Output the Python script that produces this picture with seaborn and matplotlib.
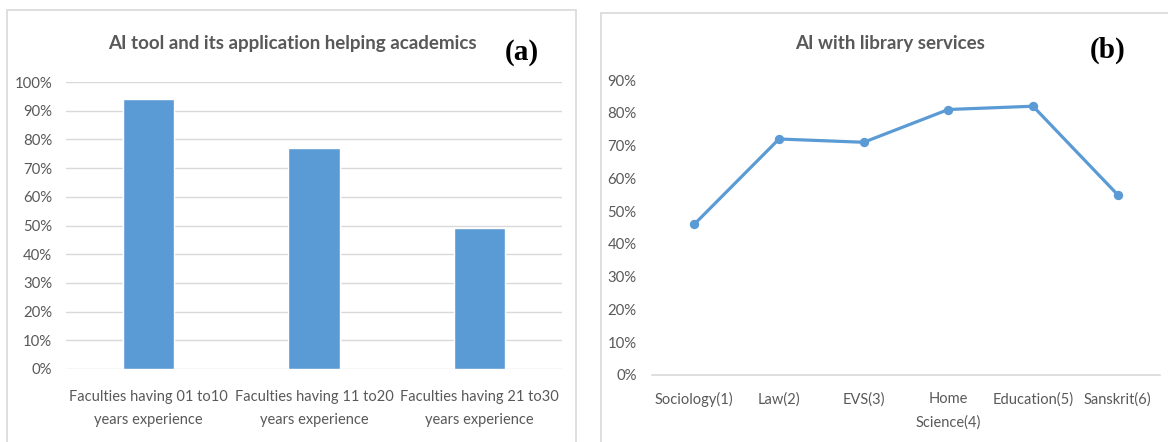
import matplotlib
matplotlib.use("Agg")
import matplotlib.pyplot as plt
import seaborn as sns
import numpy as np
import pandas as pd
from matplotlib.patches import Rectangle
from matplotlib.ticker import PercentFormatter

# ---- data ----
exp_groups = ["Faculties having 01 to10\nyears experience",
              "Faculties having 11 to20\nyears experience",
              "Faculties having 21 to30\nyears experience"]
exp_values = [0.94, 0.77, 0.49]

departments = ["Sociology(1)", "Law(2)", "EVS(3)", "Home\nScience(4)",
               "Education(5)", "Sanskrit(6)"]
dept_values = [0.46, 0.72, 0.71, 0.81, 0.82, 0.55]

title_a = "AI tool and its application helping academics"
title_b = "AI with library services"

sns.set_theme(style="white")
plt.rcParams['font.family'] = ['Lato', 'DejaVu Sans']

W, H = 1168, 442
fig = plt.figure(figsize=(W / 100, H / 100), dpi=100)
fig.patch.set_facecolor("white")

def fx(px):
    return px / W

def fy(py):
    return 1 - py / H

TXT = "#595959"
GRID = "#D9D9D9"
BLUE = "#5B9BD5"

# panel borders
fig.add_artist(Rectangle((fx(7), fy(450)), fx(576) - fx(7), fy(10) - fy(450),
                         transform=fig.transFigure, fill=False, edgecolor=GRID, lw=1.2))
fig.add_artist(Rectangle((fx(601), fy(450)), fx(1175) - fx(601), fy(13) - fy(450),
                         transform=fig.transFigure, fill=False, edgecolor=GRID, lw=1.2))

# ---- panel (a) ----
axa = fig.add_axes([fx(66), fy(369), fx(562) - fx(66), fy(82) - fy(369)])
dfa = pd.DataFrame({"group": exp_groups, "value": exp_values})
sns.barplot(data=dfa, x="group", y="value", ax=axa, color=BLUE, width=0.31,
            saturation=1)
axa.set_ylim(0, 1)
axa.set_xlim(-0.5, 2.5)
axa.set_yticks(np.arange(0, 1.01, 0.1))
axa.yaxis.set_major_formatter(PercentFormatter(1.0, decimals=0))
axa.grid(axis="y", color=GRID, lw=1)
axa.set_axisbelow(True)
for s in axa.spines.values():
    s.set_visible(False)
axa.set_xlabel("")
axa.set_ylabel("")
axa.tick_params(axis="y", length=0, pad=10, labelsize=10.7, labelcolor=TXT)
axa.tick_params(axis="x", length=0, pad=15, labelsize=10.5, labelcolor=TXT)
for lbl in axa.get_xticklabels():
    lbl.set_linespacing(1.8)

fig.text(fx(292), fy(44), title_a, ha="center", va="center", fontsize=13.5,
         color=TXT, fontweight="bold")
fig.text(fx(522), fy(52), "(a)", ha="center", va="center", fontsize=21,
         fontweight="bold", family="Liberation Serif", color="black")

# ---- panel (b) ----
axb = fig.add_axes([fx(652), fy(375), fx(1160) - fx(652), fy(80) - fy(375)])
dfb = pd.DataFrame({"dept": departments, "value": dept_values})
sns.pointplot(data=dfb, x="dept", y="value", ax=axb, color=BLUE,
              linewidth=2.3, markersize=5, markers="o")
axb.set_ylim(0, 0.9)
axb.set_xlim(-0.5, 5.5)
axb.set_yticks(np.arange(0, 0.91, 0.1))
axb.yaxis.set_major_formatter(PercentFormatter(1.0, decimals=0))
for s in axb.spines.values():
    s.set_visible(False)
axb.spines["bottom"].set_visible(True)
axb.spines["bottom"].set_color(GRID)
axb.spines["bottom"].set_linewidth(1.2)
axb.set_xlabel("")
axb.set_ylabel("")
axb.tick_params(axis="y", length=0, pad=11, labelsize=10.7, labelcolor=TXT)
axb.tick_params(axis="x", length=0, pad=12.5, labelsize=10.5, labelcolor=TXT)
for lbl in axb.get_xticklabels():
    lbl.set_linespacing(1.8)

fig.text(fx(890), fy(43), title_b, ha="center", va="center", fontsize=13.5,
         color=TXT, fontweight="bold")
fig.text(fx(1108), fy(50), "(b)", ha="center", va="center", fontsize=21,
         fontweight="bold", family="Liberation Serif", color="black")

fig.savefig("out.png", dpi=100, facecolor="white")
